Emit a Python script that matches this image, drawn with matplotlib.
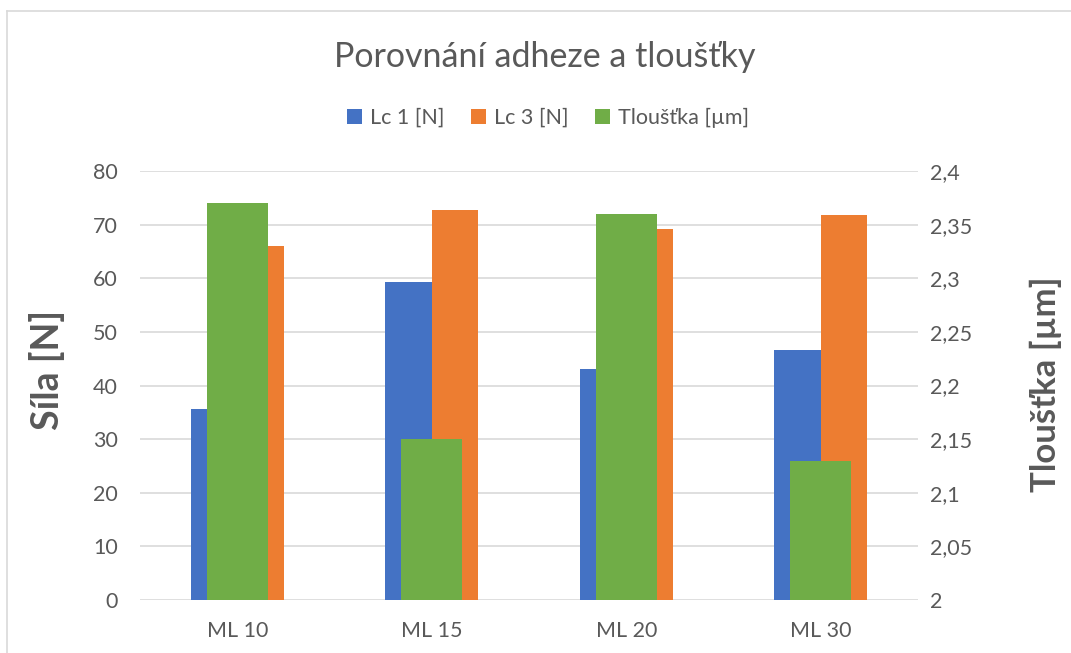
import matplotlib.pyplot as plt
import numpy as np
from matplotlib.lines import Line2D

# data
categories = ["ML 10", "ML 15", "ML 20", "ML 30"]
lc1 = [35.6, 59.3, 43.1, 46.6]
lc3 = [66.1, 72.7, 69.2, 71.8]
tloustka = [2.37, 2.15, 2.36, 2.13]

primary_ticks = [0, 10, 20, 30, 40, 50, 60, 70, 80]
secondary_ticks = [2.0, 2.05, 2.1, 2.15, 2.2, 2.25, 2.3, 2.35, 2.4]
secondary_labels = ["2", "2,05", "2,1", "2,15", "2,2", "2,25", "2,3", "2,35", "2,4"]

blue = "#4472c4"
orange = "#ed7d31"
green = "#70ad47"
text_col = "#595959"
grid_col = "#d9d9d9"

plt.rcParams['font.family'] = ['Lato', 'DejaVu Sans']

fig = plt.figure(figsize=(10.71, 6.53), dpi=100)
ax = fig.add_axes([140 / 1071, 1 - 600 / 653, 778 / 1071, 429 / 653])
ax2 = ax.twinx()

x = np.arange(len(categories))
w = 0.239
ax.bar(x - w / 2, lc1, w, color=blue, label="Lc 1 [N]", zorder=2)
ax.bar(x + w / 2, lc3, w, color=orange, label="Lc 3 [N]", zorder=2)
ax2.bar(x, tloustka, 0.314, color=green, label="Tloušťka [µm]", zorder=2)

ax.set_xlim(-0.5, 3.5)
ax.set_ylim(0, 80)
ax2.set_ylim(2.0, 2.4)

ax.set_yticks(primary_ticks)
ax.set_yticklabels([str(t) for t in primary_ticks])
ax2.set_yticks(secondary_ticks)
ax2.set_yticklabels(secondary_labels)
ax.set_xticks(x)
ax.set_xticklabels(categories)

ax.grid(axis="y", color=grid_col, linewidth=1.2, zorder=0)
ax.set_axisbelow(True)
for a in (ax, ax2):
    for s in a.spines.values():
        s.set_visible(False)
    a.tick_params(length=0, colors=text_col, labelsize=15.5)
ax.tick_params(axis="y", pad=16)
ax.tick_params(axis="x", pad=15)
ax2.tick_params(axis="y", pad=8.5)

ax.set_ylabel("Síla [N]", fontsize=27, fontweight="bold", color=text_col)
ax2.set_ylabel("Tloušťka [µm]", fontsize=25, fontweight="bold", color=text_col)
ax.yaxis.set_label_coords(-0.0964, 0.536)
ax2.yaxis.set_label_coords(1.144, 0.503)

fig.text(545 / 1071, 1 - 57 / 653, "Porovnání adheze a tloušťky", ha="center", va="center",
         fontsize=24.5, color=text_col)

h1, l1 = ax.get_legend_handles_labels()
h2, l2 = ax2.get_legend_handles_labels()
fig.legend(h1 + h2, l1 + l2, loc="center", bbox_to_anchor=(548 / 1071, 1 - 118 / 653), ncol=3,
           frameon=False, fontsize=15.5, labelcolor=text_col, handlelength=0.7, handleheight=0.7,
           handletextpad=0.4, columnspacing=1.2)

# chart border (crop shows left and top edges)
fig.add_artist(Line2D([7 / 1071, 7 / 1071], [0, 1 - 11 / 653], color=grid_col, linewidth=1.2))
fig.add_artist(Line2D([7 / 1071, 1], [1 - 11 / 653, 1 - 11 / 653], color=grid_col, linewidth=1.2))

fig.savefig("out.png", dpi=100)
